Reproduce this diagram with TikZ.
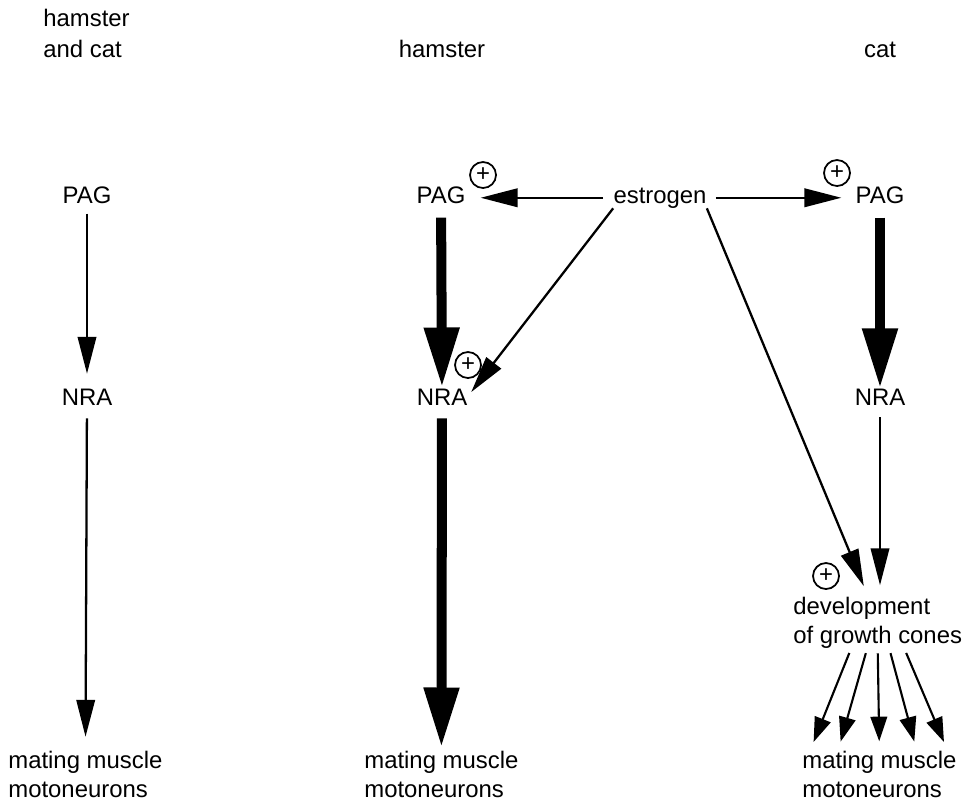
\documentclass[tikz,border=0pt]{standalone}
\usepackage{fontspec}
\setmainfont{Liberation Sans}
\usetikzlibrary{arrows.meta}

\begin{document}
\begin{tikzpicture}[x=0.02cm,y=-0.02cm,font=\fontsize{13.6}{16}\selectfont]
		\tikzstyle{lbl}=[inner sep=0pt,align=left]
		\tikzstyle{weak}=[line width=1.3pt,-{Triangle[length=21pt,width=10.5pt]}]
		\tikzstyle{weaker}=[line width=1.2pt,-{Triangle[length=14pt,width=9.5pt]}]
		\tikzstyle{strong}=[line width=5.7pt,-{Triangle[length=34pt,width=19pt]}]
		\tikzstyle{plusmark}=[circle,draw,line width=1pt,minimum size=0.52cm,inner sep=0pt]
		\useasboundingbox (0,0) rectangle (972,802);
		% column titles
		\node[lbl,anchor=base west] (hc) at (43,57) {hamster\\[0.04cm]and cat};
		\node[lbl,anchor=base] (hm) at (442,57) {hamster};
		\node[lbl,anchor=base] (ct) at (880,57) {cat};
		% hamster and cat
		\node[lbl,anchor=base] (pagA) at (87,203) {PAG};
		\node[lbl,anchor=base] (nraA) at (87,405) {NRA};
		\node[lbl,anchor=base west] (motA) at (8,797) {mating muscle\\motoneurons};
		\draw[weak,shorten <=0.2cm,shorten >=0.29cm] (pagA) -- (nraA);
		\draw[weak,shorten <=0.26cm,shorten >=0.29cm] (nraA) -- (motA);
		% hamster
		\node[lbl,anchor=base] (pagB) at (441,203) {PAG};
		\node[lbl,anchor=base] (nraB) at (442,405) {NRA};
		\node[lbl,anchor=base west] (motB) at (364,797) {mating muscle\\motoneurons};
		\draw[strong,shorten <=0.28cm,shorten >=0.02cm] (pagB) -- (nraB);
		\draw[strong,shorten <=0.26cm,shorten >=0.08cm] (nraB) -- (motB);
		% cat
		\node[lbl,anchor=base] (pagC) at (880,203) {PAG};
		\node[lbl,anchor=base] (nraC) at (880,405) {NRA};
		\node[lbl,anchor=base west] (dev) at (793,643) {development\\of growth cones};
		\node[lbl,anchor=base west] (motC) at (802,797) {mating muscle\\motoneurons};
		\draw[strong,shorten <=0.28cm] (pagC) -- (nraC);
		\draw[weak,shorten <=0.24cm,shorten >=0.24cm] (nraC.south) -- (nraC.south |- dev.north);
		\foreach \s/\e in {-26.5/-69.5,-10.5/-41.5,0/0,11.5/37.5,26.5/68.5}{
			\draw[weaker,shorten <=0.1cm,shorten >=0.2cm] ([xshift=\s*0.02cm]dev.south) -- ([xshift=\e*0.02cm]motC.north);
		};
		% estrogen
		\node[lbl,anchor=base] (est) at (660,203) {estrogen};
		\draw[weak,shorten <=0.2cm,shorten >=0.3cm] (est.west) -- (est.west -| pagB.east);
		\draw[weak,shorten <=0.18cm,shorten >=0.28cm] (est.east) -- (est.east -| pagC.west);
		\draw[weak,shorten >=0.12cm] (est.south west) -- (nraB.east);
		\draw[weak,shorten >=0.24cm] (est.south east) -- (dev.110);
		\node[plusmark] (p1) at (483,175) {+};
		\node[plusmark] (p2) at (468,365) {+};
		\node[plusmark] (p3) at (837,173) {+};
		\node[plusmark] (p4) at (826,576) {+};
	\end{tikzpicture}
\end{document}
